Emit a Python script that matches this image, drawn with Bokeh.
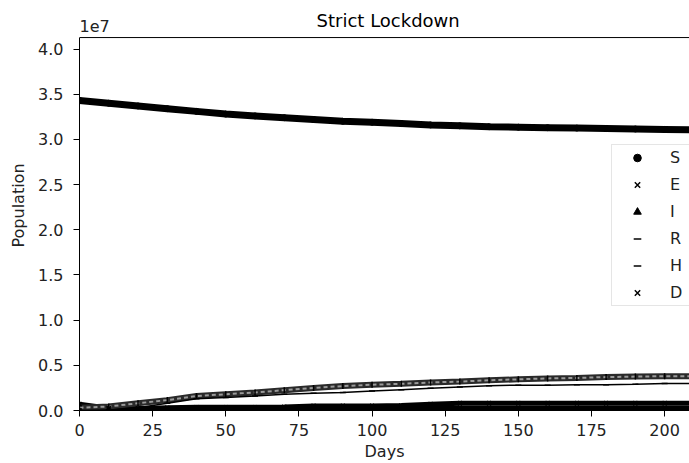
import math
from bokeh.plotting import figure
from bokeh.models import (Range1d, Span, Label, Legend, LegendItem,
                          CustomJSTickFormatter, FixedTicker, ColumnDataSource)
from bokeh.embed import file_html
from bokeh.resources import INLINE

# ---- data (population values) ----
days = [0, 10, 20, 30, 40, 50, 60, 70, 80, 90, 100, 110, 120, 130, 140, 150,
        160, 170, 180, 190, 200, 210]
S = [3.43e7, 3.40e7, 3.37e7, 3.34e7, 3.31e7, 3.28e7, 3.26e7, 3.24e7, 3.22e7,
     3.20e7, 3.19e7, 3.175e7, 3.16e7, 3.15e7, 3.14e7, 3.135e7, 3.13e7,
     3.125e7, 3.12e7, 3.115e7, 3.11e7, 3.105e7]
E = [0.07e7, 0.025e7, 0.02e7, 0.02e7, 0.025e7, 0.025e7, 0.025e7, 0.025e7,
     0.025e7, 0.025e7, 0.025e7, 0.025e7, 0.025e7, 0.025e7, 0.025e7, 0.025e7,
     0.025e7, 0.025e7, 0.025e7, 0.025e7, 0.025e7, 0.025e7]
I = [0.01e7, 0.01e7, 0.015e7, 0.015e7, 0.02e7, 0.02e7, 0.02e7, 0.02e7,
     0.02e7, 0.02e7, 0.02e7, 0.02e7, 0.02e7, 0.02e7, 0.02e7, 0.02e7,
     0.02e7, 0.02e7, 0.02e7, 0.02e7, 0.02e7, 0.02e7]
R = [0.03e7, 0.045e7, 0.08e7, 0.115e7, 0.16e7, 0.18e7, 0.20e7, 0.225e7,
     0.25e7, 0.27e7, 0.285e7, 0.295e7, 0.31e7, 0.32e7, 0.335e7, 0.345e7,
     0.355e7, 0.36e7, 0.37e7, 0.375e7, 0.38e7, 0.38e7]
H = [0.0, 0.005e7, 0.03e7, 0.08e7, 0.13e7, 0.145e7, 0.16e7, 0.18e7, 0.19e7,
     0.20e7, 0.215e7, 0.23e7, 0.245e7, 0.26e7, 0.275e7, 0.28e7, 0.28e7,
     0.285e7, 0.285e7, 0.29e7, 0.30e7, 0.30e7]
D = [0.0, 0.01e7, 0.02e7, 0.03e7, 0.035e7, 0.035e7, 0.035e7, 0.04e7,
     0.05e7, 0.05e7, 0.05e7, 0.055e7, 0.07e7, 0.08e7, 0.08e7, 0.08e7,
     0.08e7, 0.08e7, 0.08e7, 0.08e7, 0.08e7, 0.08e7]

x_ticks = [0, 25, 50, 75, 100, 125, 150, 175, 200]
y_ticks = [0, 0.5e7, 1.0e7, 1.5e7, 2.0e7, 2.5e7, 3.0e7, 3.5e7, 4.0e7]
title_text = "Strict Lockdown"
x_label = "Days"
y_label = "Population"
offset_text = "1e7"

FONT = "DejaVu Sans"
X_MAX = 208.5           # right edge of the visible part of the axes
AXES_X_END = 211        # axes end (partly beyond the picture)
Y_TOP = 4.127e7         # top spine of the axes box
Y_CANVAS_TOP = 4.537e7  # frame extends up to hold title / offset text

src = ColumnDataSource(dict(days=days, S=S, E=E, I=I, R=R, H=H, D=D))

p = figure(width=689, height=463, x_range=Range1d(0, X_MAX),
           y_range=Range1d(0, Y_CANVAS_TOP), output_backend="svg",
           toolbar_location=None, title=None, min_border_left=79,
           min_border_right=0, min_border_top=0, min_border_bottom=53)

p.xgrid.visible = False
p.ygrid.visible = False
p.outline_line_color = None
p.add_layout(Span(location=Y_TOP, dimension="width", line_color="black",
                  line_width=1))

for ax in (p.xaxis[0], p.yaxis[0]):
    ax.axis_line_color = "black"
    ax.major_tick_line_color = "black"
    ax.minor_tick_line_color = None
    ax.major_tick_in = 0
    ax.major_tick_out = 6
    ax.major_label_text_font = FONT
    ax.major_label_text_font_size = "16px"
    ax.major_label_text_color = "#222222"
    ax.axis_label_text_font = FONT
    ax.axis_label_text_font_size = "16px"
    ax.axis_label_text_font_style = "normal"
    ax.axis_label_text_color = "#222222"

p.xaxis[0].ticker = FixedTicker(ticks=x_ticks)
p.yaxis[0].ticker = FixedTicker(ticks=y_ticks)
p.yaxis[0].bounds = (0, Y_TOP)
p.yaxis[0].formatter = CustomJSTickFormatter(code="return (tick/1e7).toFixed(1);")
p.xaxis[0].axis_label = x_label
p.yaxis[0].axis_label = y_label
p.xaxis[0].major_label_standoff = 7
p.xaxis[0].axis_label_standoff = 3
p.yaxis[0].major_label_standoff = 10
p.yaxis[0].axis_label_standoff = 7

p.add_layout(Label(x=AXES_X_END / 2, y=Y_TOP, text=title_text, text_font=FONT,
                   text_font_size="18px", text_color="black",
                   text_baseline="alphabetic", text_align="center",
                   y_offset=17))
p.add_layout(Label(x=0, y=Y_TOP, text=offset_text, text_font=FONT,
                   text_font_size="16px", text_color="#222222",
                   text_baseline="alphabetic", text_align="left",
                   y_offset=12))

# bands/lines
p.line("days", "S", source=src, line_color="black", line_width=7)
p.line("days", "E", source=src, line_color="black", line_width=5)
p.line("days", "I", source=src, line_color="black", line_width=5)
p.line("days", "D", source=src, line_color="black", line_width=5)
p.line("days", "R", source=src, line_color="#2a2a2a", line_width=6)
p.line("days", "R", source=src, line_color="#9a9a9a", line_width=2,
       line_dash="4 3")
p.line("days", "H", source=src, line_color="black", line_width=1.5)

rS = p.scatter("days", "S", source=src, marker="circle", size=6,
               fill_color="black", line_color="black")
rE = p.scatter("days", "E", source=src, marker="x", size=6,
               line_color="black", line_width=1.5)
rI = p.scatter("days", "I", source=src, marker="triangle", size=4,
               fill_color="black", line_color="black")
rR = p.scatter("days", "R", source=src, marker="dash", size=6,
               angle=math.pi / 2, line_color="black", line_width=1.5)
rH = p.scatter("days", "H", source=src, marker="dash", size=6,
               line_color="black", line_width=1.5)
rD = p.scatter("days", "D", source=src, marker="x", size=6,
               line_color="black", line_width=1.5)

legend = Legend(items=[LegendItem(label="S", renderers=[rS]),
                       LegendItem(label="E", renderers=[rE]),
                       LegendItem(label="I", renderers=[rI]),
                       LegendItem(label="R", renderers=[rR]),
                       LegendItem(label="H", renderers=[rH]),
                       LegendItem(label="D", renderers=[rD])],
                location=(532, 104))
legend.label_text_font = FONT
legend.label_text_font_size = "16px"
legend.label_text_color = "#222222"
legend.glyph_width = 44
legend.glyph_height = 19
legend.label_height = 19
legend.spacing = 8
legend.padding = 3
legend.margin = 0
legend.label_standoff = 11
legend.border_line_color = "#cccccc"
legend.background_fill_alpha = 0.8
p.add_layout(legend)

open("out.html", "w").write(file_html(p, INLINE))
